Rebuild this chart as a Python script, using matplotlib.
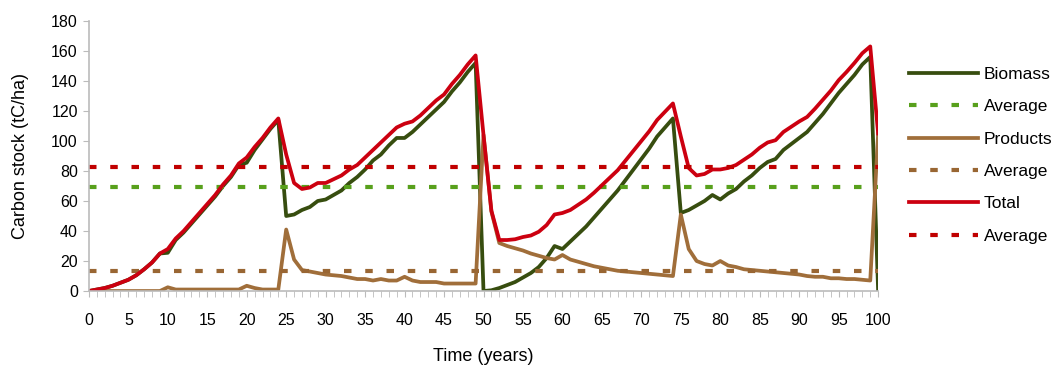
import matplotlib
matplotlib.use('Agg')
import matplotlib.pyplot as plt
import numpy as np

plt.rcParams['font.family'] = ['Liberation Sans', 'DejaVu Sans']

years = list(range(0, 101))

# carbon stock in living biomass (tC/ha)
biomass = [0, 1, 2, 3.5, 5.5, 7.5, 10.5, 14.5, 19, 25,
           25.5, 34, 39, 45, 51, 57, 63, 70, 76, 84,
           85.5, 94, 101, 108, 114,
           50, 51, 54, 56, 60, 61, 64, 67, 72, 76,
           81, 87, 91, 97, 102, 102, 106, 111, 116, 121,
           126, 133, 139, 146, 152,
           0, 0.5, 2, 4, 6, 9, 12, 16, 22, 30,
           28, 33, 38, 43, 49, 55, 61, 67, 74, 81,
           88, 95, 103, 109, 115,
           52, 54, 57, 60, 64, 61, 65, 68, 73, 77,
           82, 86, 88, 94, 98, 102, 106, 112, 118, 125,
           132, 138, 144, 151, 156,
           0]

# carbon stock in wood products (tC/ha)
products = [0, 0, 0, 0, 0, 0, 0, 0, 0, 0,
            2.5, 1, 1, 1, 1, 1, 1, 1, 1, 1,
            3.5, 2, 1, 1, 1,
            41, 21, 14, 13, 12, 11, 10.5, 10, 9, 8,
            8, 7, 8, 7, 7, 9.5, 7, 6, 6, 6,
            5, 5, 5, 5, 5,
            104, 53, 32, 30, 28.5, 27, 25, 23.5, 22, 21,
            24, 21, 19.5, 18, 16.5, 15.5, 14.5, 13.5, 13, 12.5,
            12, 11.5, 11, 10.5, 10,
            51, 28, 20, 18, 17, 20, 17, 16, 14.5, 14,
            13.5, 13, 12.5, 12, 11.5, 11, 10, 9.5, 9.5, 8.5,
            8.5, 8, 8, 7.5, 7,
            105]

total = [b + p for b, p in zip(biomass, products)]

avg_biomass = 69.3
avg_products = 13.3
avg_total = 82.6

c_bio = '#374D0F'
c_bio_avg = '#58A01C'
c_prod = '#A06E3A'
c_prod_avg = '#996633'
c_tot = '#CC0010'
c_tot_avg = '#C00000'

fig = plt.figure(figsize=(10.58, 3.67), dpi=100)
ax = fig.add_axes([0.084, 0.207, 0.746, 0.736])

dash = (1.8, 3.3)
ax.plot(years, biomass, color=c_bio, lw=2.7, label='Biomass')
ax.axhline(avg_biomass, color=c_bio_avg, lw=3, dashes=dash, dash_capstyle='butt', label='Average')
ax.plot(years, products, color=c_prod, lw=2.7, label='Products')
ax.axhline(avg_products, color=c_prod_avg, lw=3, dashes=dash, dash_capstyle='butt', label='Average')
ax.plot(years, total, color=c_tot, lw=2.7, label='Total')
ax.axhline(avg_total, color=c_tot_avg, lw=3, dashes=dash, dash_capstyle='butt', label='Average')

ax.set_xlim(0, 100)
ax.set_ylim(0, 180)
ax.set_yticks(range(0, 181, 20))
ax.set_xticks(range(0, 101, 5))
ax.set_xticks(range(0, 101, 1), minor=True)

for s in ['top', 'right']:
    ax.spines[s].set_visible(False)
for s in ['left', 'bottom']:
    ax.spines[s].set_color('#BBBBBB')
    ax.spines[s].set_linewidth(1.2)
ax.tick_params(axis='both', which='both', colors='#BBBBBB', labelcolor='black', labelsize=11.5)
ax.tick_params(axis='x', which='both', length=4, pad=12)
ax.tick_params(axis='y', length=4, pad=4)

ax.set_xlabel('Time (years)', fontsize=13, labelpad=14)
ax.set_ylabel('Carbon stock (tC/ha)', fontsize=13, labelpad=16)

fig.legend(loc='upper left', bbox_to_anchor=(0.859, 0.818), frameon=False,
           fontsize=12.5, handlelength=4.0, handletextpad=0.3, labelspacing=0.99,
           borderaxespad=0, borderpad=0)

plt.savefig('out.png', dpi=100)
